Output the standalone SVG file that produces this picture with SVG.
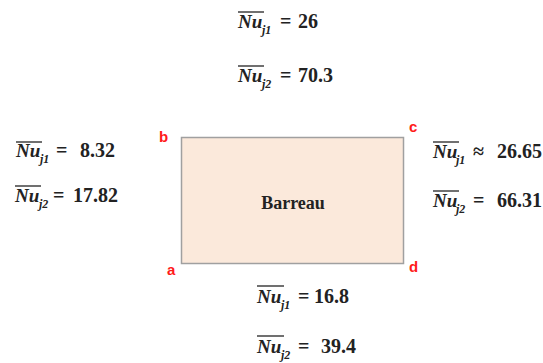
<svg xmlns="http://www.w3.org/2000/svg" width="543" height="363" viewBox="0 0 543 363">
<style>
.f{font-family:"Liberation Serif","DejaVu Serif",serif;fill:#222}
.nu{font-weight:bold;font-style:italic;font-size:19px}
.sub{font-weight:bold;font-style:italic;font-size:12px}
.v{font-weight:bold;font-size:20px}
.ol{stroke:#222;stroke-width:1.3}
.pt{font-family:"Liberation Sans","DejaVu Sans",sans-serif;font-weight:bold;font-size:15px;fill:#ff1a1a}
</style>
<rect width="543" height="363" fill="#ffffff"/>
<g id="barreau">
<rect x="181.5" y="137.5" width="222" height="126" fill="#fbe9db" stroke="#a0a0a0" stroke-width="1.5"/>
<text class="f" x="293" y="209" text-anchor="middle" font-size="18" font-weight="bold">Barreau</text>
</g>
<g id="corners">
<text class="pt" x="159" y="142">b</text>
<text class="pt" x="409" y="132">c</text>
<text class="pt" x="167" y="275">a</text>
<text class="pt" x="409" y="272">d</text>
</g>
<g id="top">
<line class="ol" x1="238" y1="12" x2="264" y2="12"/>
<text class="f" y="28"><tspan class="nu" x="238">Nu</tspan><tspan class="sub" x="262" dy="6">j1</tspan><tspan class="v" x="280" dy="-6">=</tspan><tspan class="v" x="298">26</tspan></text>
<line class="ol" x1="238" y1="66" x2="264" y2="66"/>
<text class="f" y="82"><tspan class="nu" x="238">Nu</tspan><tspan class="sub" x="262" dy="6">j2</tspan><tspan class="v" x="280" dy="-6">=</tspan><tspan class="v" x="298">70.3</tspan></text>
</g>
<g id="left">
<line class="ol" x1="16" y1="142" x2="42" y2="142"/>
<text class="f" y="157"><tspan class="nu" x="16">Nu</tspan><tspan class="sub" x="40" dy="6">j1</tspan><tspan class="v" x="56" dy="-6">=</tspan><tspan class="v" x="80">8.32</tspan></text>
<line class="ol" x1="15" y1="186" x2="41" y2="186"/>
<text class="f" y="202"><tspan class="nu" x="15">Nu</tspan><tspan class="sub" x="39" dy="6">j2</tspan><tspan class="v" x="53" dy="-6">=</tspan><tspan class="v" x="73">17.82</tspan></text>
</g>
<g id="right">
<line class="ol" x1="433" y1="142" x2="459" y2="142"/>
<text class="f" y="158"><tspan class="nu" x="433">Nu</tspan><tspan class="sub" x="456" dy="6">j1</tspan><tspan class="v" x="473" dy="-6">≈</tspan><tspan class="v" x="497">26.65</tspan></text>
<line class="ol" x1="433" y1="191" x2="459" y2="191"/>
<text class="f" y="207"><tspan class="nu" x="433">Nu</tspan><tspan class="sub" x="456" dy="6">j2</tspan><tspan class="v" x="473" dy="-6">=</tspan><tspan class="v" x="497">66.31</tspan></text>
</g>
<g id="bottom">
<line class="ol" x1="257" y1="286" x2="284" y2="286"/>
<text class="f" y="303"><tspan class="nu" x="257">Nu</tspan><tspan class="sub" x="281" dy="6">j1</tspan><tspan class="v" x="298" dy="-6">=</tspan><tspan class="v" x="314">16.8</tspan></text>
<line class="ol" x1="257" y1="336" x2="284" y2="336"/>
<text class="f" y="353"><tspan class="nu" x="257">Nu</tspan><tspan class="sub" x="281" dy="6">j2</tspan><tspan class="v" x="298" dy="-6">=</tspan><tspan class="v" x="321">39.4</tspan></text>
</g>
</svg>
